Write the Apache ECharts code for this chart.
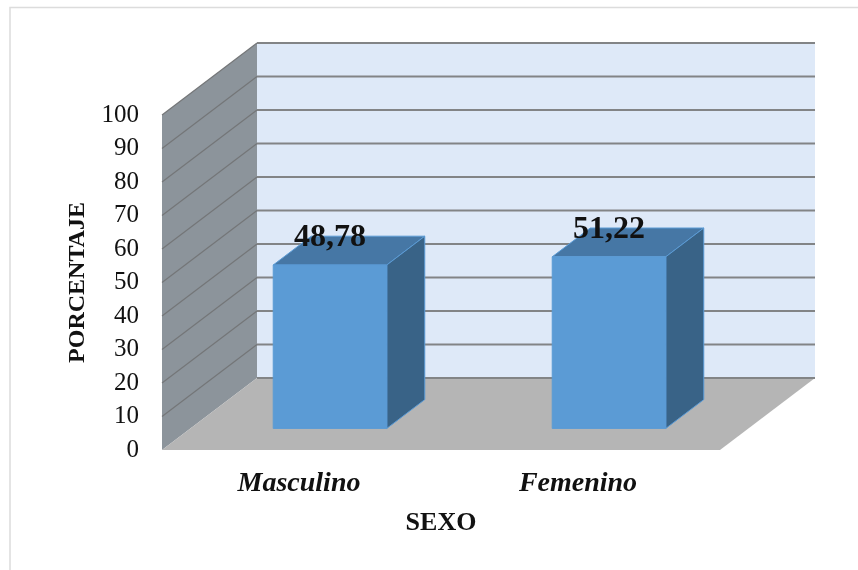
<!DOCTYPE html>
<html>
<head>
<meta charset="utf-8">
<style>html,body{margin:0;padding:0;background:#fff}#c{width:858px;height:570px}</style>
<script src="https://cdn.jsdelivr.net/npm/echarts@6/dist/echarts.min.js"></script>
</head>
<body>
<div id="c"></div>
<script>
const categories = ['Masculino', 'Femenino'];
const values = [48.78, 51.22];
const valueLabels = ['48,78', '51,22'];
const yTicks = [0, 10, 20, 30, 40, 50, 60, 70, 80, 90, 100];

const DEPTH_X = 95, DEPTH_Y = -72;
const BAR_WIDTH_FRACTION = 0.407, BAR_DEPTH_START = 0.3, BAR_DEPTH_END = 0.7;
const FONT = '"Liberation Serif","Times New Roman",serif';

function poly(points, fill, stroke, lineWidth) {
  return { type: 'polygon', shape: { points }, style: { fill, stroke: stroke || null, lineWidth: lineWidth || 0 } };
}
function seg(a, b, stroke, lineWidth) {
  return { type: 'line', shape: { x1: a[0], y1: a[1], x2: b[0], y2: b[1] }, style: { stroke, lineWidth } };
}

function renderWalls(params, api) {
  const band = api.size([1, 0])[0];
  const tick = api.value(1);
  const first = api.coord([0, tick]);
  const left = first[0] - band / 2;
  const right = left + band * categories.length;
  const y = first[1];
  const children = [];
  if (params.dataIndex === 0) {
    const top = api.coord([0, yTicks[yTicks.length - 1]])[1];
    children.push(poly([[left + DEPTH_X, top + DEPTH_Y], [right + DEPTH_X, top + DEPTH_Y], [right + DEPTH_X, y + DEPTH_Y], [left + DEPTH_X, y + DEPTH_Y]], '#dee9f8'));
    children.push(poly([[left, top], [left + DEPTH_X, top + DEPTH_Y], [left + DEPTH_X, y + DEPTH_Y], [left, y]], '#8c949b'));
    children.push(poly([[left, y], [right, y], [right + DEPTH_X, y + DEPTH_Y], [left + DEPTH_X, y + DEPTH_Y]], '#b5b5b5'));
  }
  if (tick > 0) {
    children.push(seg([left, y], [left + DEPTH_X, y + DEPTH_Y], '#747678', 1.2));
  }
  children.push(seg([left + DEPTH_X, y + DEPTH_Y], [right + DEPTH_X, y + DEPTH_Y], '#828486', 2));
  return { type: 'group', children };
}

function renderBars(params, api) {
  const idx = api.value(0);
  const val = api.value(1);
  const base = api.coord([idx, 0]);
  const topP = api.coord([idx, val]);
  const band = api.size([1, 0])[0];
  const w = band * BAR_WIDTH_FRACTION;
  const sx = DEPTH_X * BAR_DEPTH_START, sy = DEPTH_Y * BAR_DEPTH_START;
  const dx = DEPTH_X * (BAR_DEPTH_END - BAR_DEPTH_START), dy = DEPTH_Y * (BAR_DEPTH_END - BAR_DEPTH_START);
  const x0 = base[0] - w / 2 + sx, x1 = x0 + w;
  const yb = base[1] + sy, yt = topP[1] + sy;
  const edge = '#5b9bd5';
  return {
    type: 'group',
    children: [
      poly([[x0, yt], [x1, yt], [x1 + dx, yt + dy], [x0 + dx, yt + dy]], '#4677a5', edge, 1),
      poly([[x1, yt], [x1 + dx, yt + dy], [x1 + dx, yb + dy], [x1, yb]], '#396387', edge, 1),
      poly([[x0, yt], [x1, yt], [x1, yb], [x0, yb]], '#5b9bd5', edge, 1),
      {
        type: 'text',
        style: {
          x: (x0 + x1) / 2, y: yt - 27.5,
          text: valueLabels[params.dataIndex],
          fill: '#111', font: 'bold 32px ' + FONT,
          align: 'center', verticalAlign: 'middle'
        }
      }
    ]
  };
}

const chart = echarts.init(document.getElementById('c'), null, { renderer: 'canvas' });
chart.setOption({
  animation: false,
  backgroundColor: '#ffffff',
  graphic: [{
    type: 'rect', silent: true, z: -10,
    shape: { x: 10, y: 7.5, width: 900, height: 620 },
    style: { fill: 'none', stroke: '#dcdcdc', lineWidth: 1.5 }
  }],
  grid: { left: 162, right: 138, top: 115, bottom: 120 },
  xAxis: {
    type: 'category',
    data: categories,
    axisLine: { show: false },
    axisTick: { show: false },
    axisLabel: { margin: 20, padding: [0, 5, 0, 0], color: '#111', fontFamily: FONT, fontSize: 28, fontWeight: 'bold', fontStyle: 'italic' },
    name: 'SEXO',
    nameLocation: 'middle',
    nameGap: 60,
    nameTextStyle: { color: '#111', fontFamily: FONT, fontSize: 26, fontWeight: 'bold' }
  },
  yAxis: {
    type: 'value',
    min: 0,
    max: 100,
    interval: 10,
    axisLine: { show: false },
    axisTick: { show: false },
    splitLine: { show: false },
    axisLabel: { margin: 23, padding: [5, 0, 0, 0], color: '#111', fontFamily: FONT, fontSize: 25 },
    name: 'PORCENTAJE',
    nameLocation: 'middle',
    nameGap: 72,
    nameTextStyle: { color: '#111', fontFamily: FONT, fontSize: 24, fontWeight: 'bold' }
  },
  series: [
    {
      type: 'custom', name: 'walls', silent: true, z: 1,
      renderItem: renderWalls,
      encode: { x: 0, y: 1 },
      data: yTicks.map(t => [0, t])
    },
    {
      type: 'custom', name: 'PORCENTAJE', z: 2,
      renderItem: renderBars,
      encode: { x: 0, y: 1 },
      data: values.map((v, i) => [i, v])
    }
  ]
});
</script>
</body>
</html>
